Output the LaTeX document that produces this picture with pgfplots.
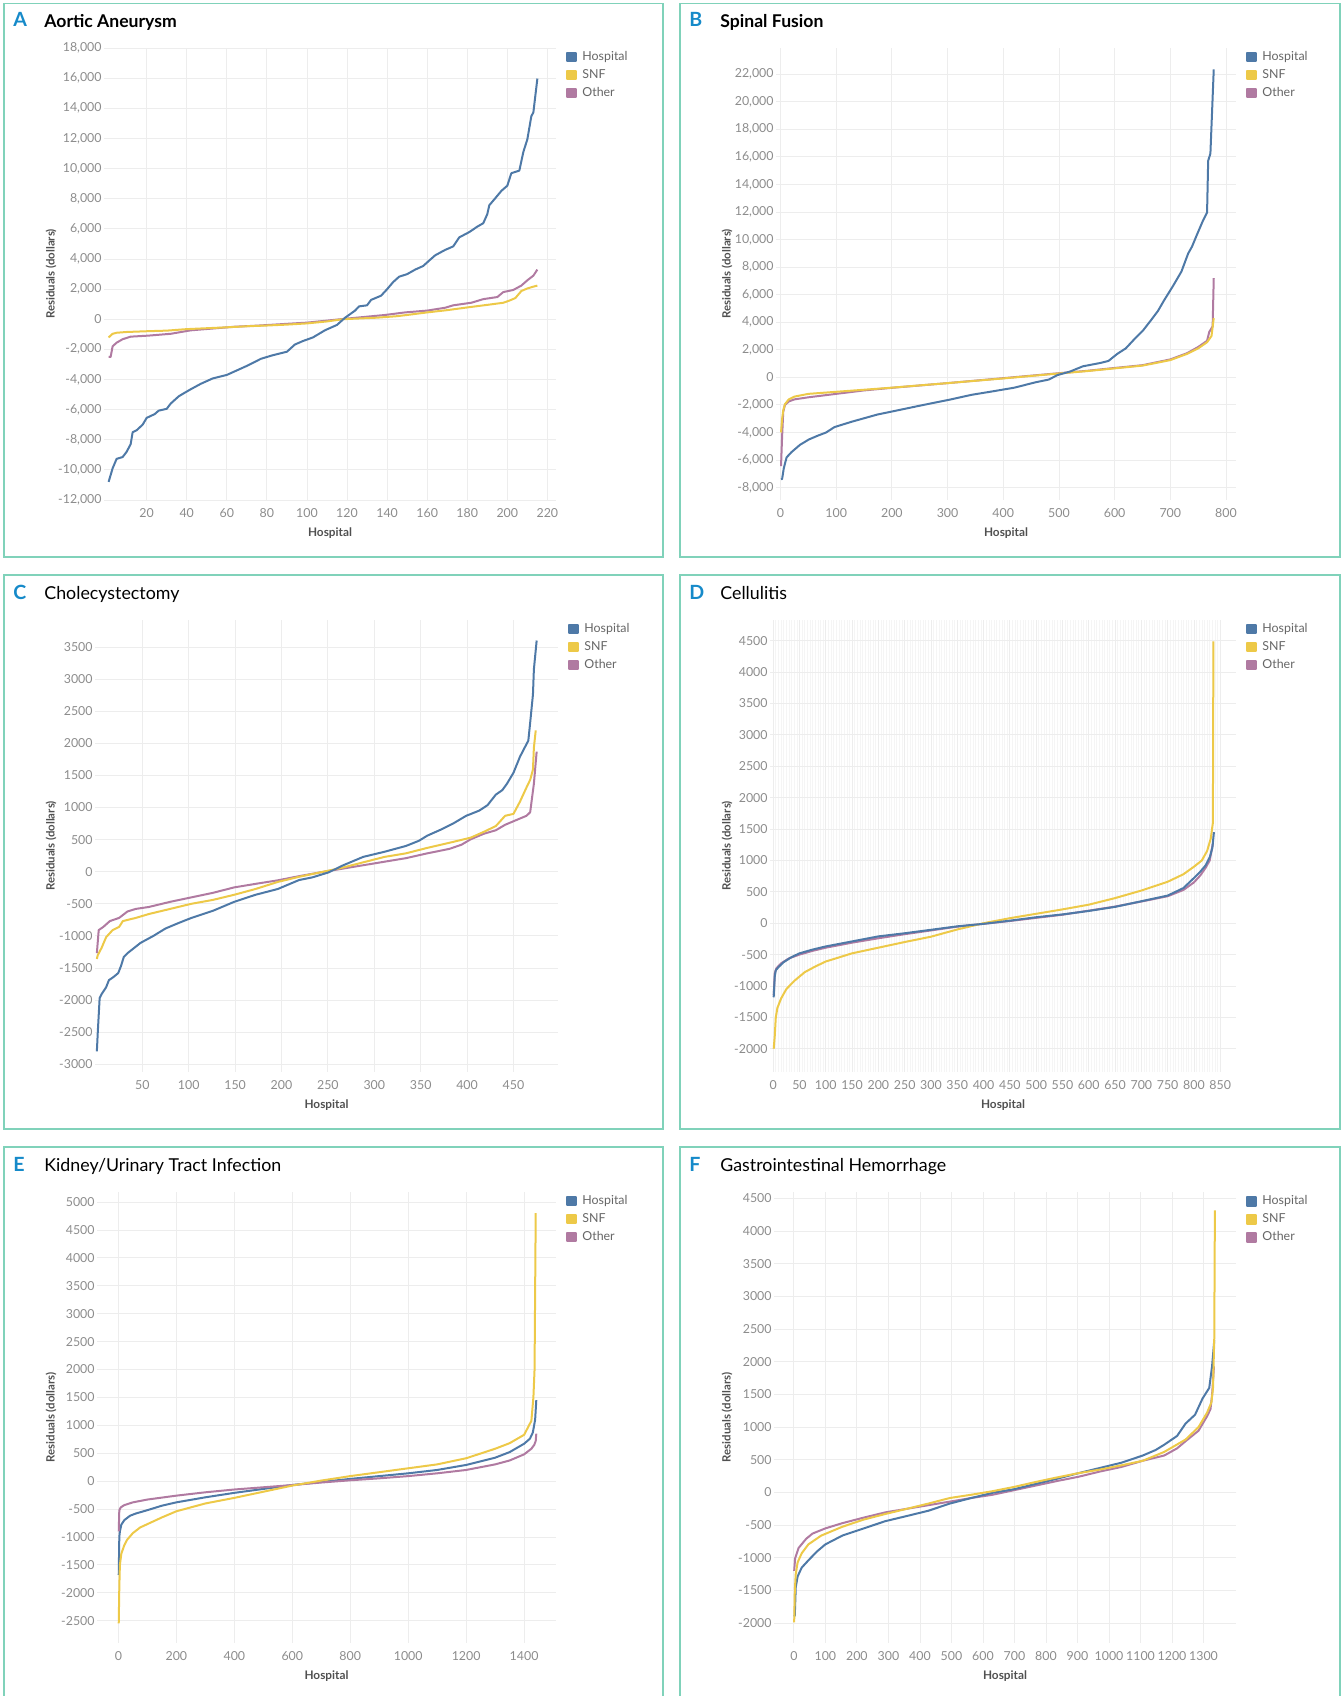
\documentclass[border=0pt]{standalone}
\usepackage{pgfplots}
\pgfplotsset{compat=1.18}
\usepackage{fontspec}
\setmainfont{Lato}
\definecolor{hosp}{RGB}{78,121,167}
\definecolor{snf}{RGB}{237,201,72}
\definecolor{oth}{RGB}{176,122,161}
\definecolor{framec}{RGB}{128,210,186}
\definecolor{letterc}{RGB}{22,138,201}
\definecolor{ticktext}{RGB}{140,140,140}
\definecolor{labtext}{RGB}{80,80,80}

\pgfplotsset{
  resid/.style={
    scale only axis,
    axis line style={draw=none},
    tick style={draw=none},
    xmajorgrids, ymajorgrids,
    major grid style={draw=black!7, line width=0.4pt},
    scaled x ticks=false, scaled y ticks=false,
    /pgf/number format/assume math mode=true,
    /pgf/number format/fixed,
    /pgf/number format/1000 sep={},
    tick label style={font=\fontsize{6.2}{7}\selectfont, text=ticktext},
    yticklabel style={anchor=east, inner sep=1pt},
    xticklabel style={anchor=center, yshift=-6.3pt},
    xlabel={Hospital},
    ylabel={Residuals (dollars)},
    every axis x label/.style={at={(axis description cs:0.5,0)}, anchor=center, yshift=-16.5pt, font=\bfseries\fontsize{5.9}{6}\selectfont, text=labtext},
    every axis y label/.style={at={(axis description cs:0,0.5)}, anchor=center, rotate=90, font=\bfseries\fontsize{5.7}{6}\selectfont, text=labtext},
    legend style={at={(1,1)}, anchor=north west, xshift=5pt, yshift=-1pt, draw=none, fill=none, inner sep=0pt,
      font=\fontsize{6.2}{7}\selectfont, text=black!60, row sep=2.1pt,
      nodes={inner sep=0.6pt, text height=4.4pt, text depth=1.3pt},
      /tikz/every odd column/.append style={column sep=2.2pt}},
    legend cell align=left,
    legend image code/.code={\fill[##1] (0pt,-2.1pt) rectangle (4.2pt,2.1pt);},
    extra y ticks={0}, extra y tick labels={},
    extra y tick style={tick style={draw=none}, grid style={draw=black!30, densely dotted, line width=0.5pt}},
  },
  ylab/.style={every axis y label/.append style={at={([xshift=#1]axis description cs:0,0.5)}}},
  commasep/.style={yticklabel style={/pgf/number format/1000 sep={,}}},
  hl/.style={color=hosp, line width=1pt, line join=round},
  sl/.style={color=snf, line width=1pt, line join=round},
  ol/.style={color=oth, line width=1pt, line join=round},
}
\newcommand{\legs}{%
  \addlegendimage{hl}\addlegendentry{Hospital}
  \addlegendimage{sl}\addlegendentry{SNF}
  \addlegendimage{ol}\addlegendentry{Other}}

\begin{document}
\begin{tikzpicture}
\path[use as bounding box] (0,0) rectangle (671.5pt,848pt);
% panel frames
\draw[framec, line width=0.8pt] (2pt,846.25pt) rectangle (331.5pt,569.5pt);
\draw[framec, line width=0.8pt] (340pt,846.25pt) rectangle (670pt,569.5pt);
\draw[framec, line width=0.8pt] (2pt,560.5pt) rectangle (331.5pt,283.5pt);
\draw[framec, line width=0.8pt] (340pt,560.5pt) rectangle (670pt,283.5pt);
\draw[framec, line width=0.8pt] (2pt,274.5pt) rectangle (331.5pt,-3pt);
\draw[framec, line width=0.8pt] (340pt,274.5pt) rectangle (670pt,-3pt);
% titles
\node[anchor=base west, inner sep=0pt, text=letterc, font=\bfseries\fontsize{9.8}{10}\selectfont] at (6.5pt,834.6pt) {A};
\node[anchor=base west, inner sep=0pt, font=\bfseries\fontsize{8.8}{10}\selectfont] at (22pt,834.2pt) {Aortic Aneurysm};
\node[anchor=base west, inner sep=0pt, text=letterc, font=\bfseries\fontsize{9.8}{10}\selectfont] at (344.5pt,834.6pt) {B};
\node[anchor=base west, inner sep=0pt, font=\bfseries\fontsize{8.8}{10}\selectfont] at (360pt,834.2pt) {Spinal Fusion};
\node[anchor=base west, inner sep=0pt, text=letterc, font=\bfseries\fontsize{9.8}{10}\selectfont] at (6.5pt,548pt) {C};
\node[anchor=base west, inner sep=0pt, font=\fontsize{8.9}{10}\selectfont] at (22pt,548pt) {Cholecystectomy};
\node[anchor=base west, inner sep=0pt, text=letterc, font=\bfseries\fontsize{9.8}{10}\selectfont] at (344.5pt,548pt) {D};
\node[anchor=base west, inner sep=0pt, font=\fontsize{8.9}{10}\selectfont] at (360pt,548pt) {Cellulitis};
\node[anchor=base west, inner sep=0pt, text=letterc, font=\bfseries\fontsize{9.8}{10}\selectfont] at (6.5pt,262pt) {E};
\node[anchor=base west, inner sep=0pt, font=\fontsize{8.9}{10}\selectfont] at (22pt,262pt) {Kidney/Urinary Tract Infection};
\node[anchor=base west, inner sep=0pt, text=letterc, font=\bfseries\fontsize{9.8}{10}\selectfont] at (344.5pt,262pt) {F};
\node[anchor=base west, inner sep=0pt, font=\fontsize{8.9}{10}\selectfont] at (360pt,262pt) {Gastrointestinal Hemorrhage};

% ---------------- A
\begin{axis}[resid, commasep, ylab=-26.5pt, at={(52pt,598pt)}, anchor=south west,
  width=226pt, height=226pt, xmin=-1.3, xmax=224.3, ymin=-12000, ymax=18000,
  xtick={20,40,...,220}, ytick={-12000,-10000,...,18000}]
\legs
\addplot[ol, forget plot] coordinates {(1,-2510)(2,-2510)(3,-1800)(5,-1560)(8,-1330)(12,-1160)(21,-1090)(32,-970)(42,-740)(53,-620)(64,-500)(75,-430)(96,-260)(100,-230)(117,0)(128,140)(139,280)(149,450)(160,570)(169,760)(173,920)(182,1090)(188,1330)(195,1470)(198,1800)(203,1940)(207,2230)(210,2580)(213,2890)(215,3290)};
\addplot[sl, forget plot] coordinates {(1,-1210)(3,-970)(5,-900)(10,-850)(20,-800)(30,-760)(40,-660)(50,-600)(60,-540)(70,-470)(80,-420)(90,-360)(100,-280)(110,-150)(118,0)(125,40)(135,100)(145,200)(150,280)(160,450)(170,600)(180,780)(190,950)(198,1090)(201,1230)(204,1400)(207,1870)(210,2040)(213,2160)(215,2230)};
\addplot[hl, forget plot] coordinates {(1,-10800)(3,-9900)(5,-9270)(8,-9150)(10,-8800)(12,-8300)(13,-7500)(15,-7370)(18,-7000)(20,-6550)(24,-6300)(26,-6070)(30,-5950)(32,-5600)(36,-5120)(39,-4880)(42,-4650)(47,-4290)(53,-3930)(60,-3700)(64,-3460)(70,-3100)(77,-2630)(83,-2390)(90,-2160)(94,-1680)(98,-1450)(103,-1210)(109,-735)(115,-380)(119,95)(124,570)(126,850)(130,920)(132,1280)(137,1560)(140,1990)(143,2460)(146,2820)(150,2990)(154,3290)(158,3530)(161,3890)(164,4240)(169,4600)(173,4830)(176,5430)(181,5780)(185,6140)(188,6370)(190,6970)(191,7560)(194,8030)(197,8510)(200,8860)(202,9690)(206,9860)(208,11100)(210,11940)(212,13480)(213,13720)(215,15970)};
\end{axis}

% ---------------- B
\begin{axis}[resid, commasep, ylab=-24.5pt, at={(388pt,598pt)}, anchor=south west,
  width=230pt, height=226pt, xmin=-8, xmax=818, ymin=-8900, ymax=23900,
  xtick={0,100,...,800}, ytick={-8000,-6000,...,22000}]
\legs
\addplot[ol, forget plot] coordinates {(1,-6450)(3,-4250)(5,-2500)(8,-2000)(15,-1750)(25,-1600)(50,-1450)(100,-1200)(150,-950)(200,-760)(300,-420)(400,-60)(450,120)(500,300)(550,470)(600,680)(650,880)(700,1300)(730,1750)(750,2200)(766,2650)(770,3300)(776,3700)(778,7200)};
\addplot[sl, forget plot] coordinates {(1,-4000)(3,-3000)(5,-2400)(8,-1950)(15,-1600)(25,-1400)(50,-1200)(100,-1050)(150,-900)(200,-750)(300,-420)(400,-80)(450,100)(500,280)(550,450)(600,650)(650,850)(700,1250)(730,1700)(750,2100)(766,2550)(774,3000)(778,4300)};
\addplot[hl, forget plot] coordinates {(1,-7400)(3,-7370)(6,-6590)(11,-5810)(20,-5420)(35,-4900)(51,-4510)(66,-4250)(82,-4000)(97,-3610)(128,-3220)(174,-2700)(205,-2440)(251,-2050)(305,-1610)(343,-1270)(382,-1010)(420,-750)(458,-360)(482,-160)(497,160)(520,420)(543,800)(574,1040)(589,1190)(605,1710)(620,2100)(635,2750)(651,3400)(666,4180)(678,4830)(689,5600)(705,6640)(720,7680)(732,8980)(739,9490)(747,10270)(758,11310)(766,11960)(768,15720)(772,16240)(778,22340)};
\end{axis}

% ---------------- C
\begin{axis}[resid, ylab=-22pt, at={(47.5pt,312pt)}, anchor=south west,
  width=231.5pt, height=226pt, xmin=-1, xmax=498, ymin=-3120, ymax=3920,
  xtick={50,100,...,450}, ytick={-3000,-2500,...,3500}]
\legs
\addplot[ol, forget plot] coordinates {(1,-1270)(3,-910)(8,-860)(15,-770)(25,-720)(34,-620)(43,-580)(57,-550)(80,-470)(103,-400)(126,-330)(149,-245)(172,-190)(196,-135)(219,-70)(242,-10)(265,45)(288,100)(311,155)(334,210)(357,285)(381,355)(394,420)(404,505)(418,590)(431,645)(441,730)(450,785)(464,870)(468,925)(472,1370)(475,1870)};
\addplot[sl, forget plot] coordinates {(1,-1360)(2,-1300)(6,-1190)(11,-1020)(18,-910)(25,-860)(29,-770)(43,-720)(57,-660)(80,-580)(103,-500)(126,-440)(149,-360)(172,-270)(196,-160)(219,-80)(242,-10)(265,60)(288,145)(311,230)(334,285)(357,370)(381,450)(404,530)(418,620)(431,710)(441,870)(450,900)(457,1090)(464,1310)(468,1430)(471,1590)(472,1930)(474,2200)};
\addplot[hl, forget plot] coordinates {(1,-2800)(2,-2500)(4,-1970)(6,-1910)(11,-1800)(14,-1690)(19,-1640)(24,-1580)(27,-1470)(30,-1330)(34,-1270)(41,-1190)(48,-1110)(62,-1000)(75,-885)(89,-800)(103,-720)(126,-610)(149,-470)(172,-360)(196,-270)(219,-130)(233,-90)(251,-10)(265,90)(288,230)(311,310)(334,400)(348,480)(357,560)(371,650)(385,750)(399,870)(413,950)(422,1035)(431,1200)(438,1270)(443,1370)(450,1540)(457,1790)(462,1930)(466,2040)(468,2320)(471,2760)(472,3150)(475,3600)};
\end{axis}

% ---------------- D
\begin{axis}[resid, ylab=-21.5pt, at={(385pt,312pt)}, anchor=south west,
  width=233pt, height=226pt, xmin=-6, xmax=880, ymin=-2370, ymax=4830,
  xtick={0,50,...,850}, ytick={-2000,-1500,...,4500},
  minor x tick num=9, xminorgrids, minor grid style={draw=black!4, line width=0.3pt}]
\legs
\addplot[ol, forget plot] coordinates {(1,-1150)(3,-800)(6,-720)(15,-640)(30,-560)(50,-500)(75,-440)(100,-390)(150,-310)(200,-240)(250,-175)(300,-115)(350,-55)(400,-10)(450,35)(500,85)(550,135)(600,200)(650,265)(700,345)(750,430)(780,530)(800,650)(812,760)(822,880)(830,1000)(836,1270)};
\addplot[sl, forget plot] coordinates {(1,-2000)(3,-1800)(5,-1500)(8,-1350)(15,-1200)(25,-1050)(40,-920)(60,-780)(80,-690)(100,-610)(150,-480)(200,-390)(250,-300)(300,-215)(350,-100)(400,0)(450,80)(500,150)(550,220)(600,295)(650,400)(700,520)(750,660)(780,780)(800,900)(815,1000)(825,1150)(832,1350)(836,1600)(837,4490)};
\addplot[hl, forget plot] coordinates {(1,-1180)(3,-850)(5,-750)(10,-700)(20,-620)(35,-540)(50,-480)(75,-420)(100,-370)(150,-290)(200,-210)(250,-160)(300,-105)(350,-50)(400,-10)(450,40)(500,95)(550,140)(600,195)(650,260)(700,350)(750,440)(780,560)(800,720)(812,820)(822,920)(830,1050)(835,1200)(838,1450)};
\end{axis}

% ---------------- E
\begin{axis}[resid, ylab=-23pt, at={(48.5pt,26.5pt)}, anchor=south west,
  width=229.5pt, height=225.5pt, xmin=-74, xmax=1510, ymin=-2900, ymax=5180,
  xtick={0,200,...,1400}, ytick={-2500,-2000,...,5000}]
\legs
\addplot[hl, forget plot] coordinates {(1,-1680)(3,-1000)(5,-900)(10,-780)(20,-700)(40,-620)(60,-580)(100,-520)(150,-440)(200,-380)(300,-290)(400,-210)(500,-140)(600,-70)(700,-15)(800,40)(900,90)(1000,140)(1100,200)(1200,290)(1300,420)(1350,520)(1400,670)(1420,760)(1430,870)(1438,1100)(1442,1450)};
\addplot[ol, forget plot] coordinates {(1,-900)(3,-520)(8,-470)(20,-430)(50,-380)(100,-330)(200,-260)(300,-200)(400,-150)(500,-110)(600,-70)(700,-25)(800,15)(900,50)(1000,90)(1100,140)(1200,200)(1300,300)(1350,370)(1400,480)(1425,580)(1435,650)(1440,720)(1442,850)};
\addplot[sl, forget plot] coordinates {(1,-2550)(3,-1900)(5,-1500)(10,-1300)(20,-1150)(30,-1050)(50,-930)(75,-830)(100,-770)(150,-650)(200,-540)(300,-400)(400,-300)(500,-190)(600,-80)(700,10)(800,90)(900,160)(1000,230)(1100,300)(1200,410)(1300,580)(1350,680)(1400,830)(1425,1080)(1432,1500)(1436,2000)(1440,4800)};
\end{axis}

% ---------------- F
\begin{axis}[resid, ylab=-23.5pt, at={(387pt,26.5pt)}, anchor=south west,
  width=231pt, height=225.5pt, xmin=-63, xmax=1403, ymin=-2305, ymax=4600,
  xtick={0,100,...,1300}, ytick={-2000,-1500,...,4500}]
\legs
\addplot[ol, forget plot] coordinates {(1,-1200)(4,-1010)(15,-850)(39,-710)(59,-630)(100,-550)(154,-470)(222,-385)(290,-305)(359,-250)(427,-195)(495,-140)(563,-85)(631,-35)(699,35)(767,105)(835,175)(903,240)(971,320)(1039,390)(1107,485)(1175,565)(1216,675)(1243,785)(1284,945)(1311,1165)(1322,1275)(1327,1490)(1333,1930)};
\addplot[hl, forget plot] coordinates {(1,-1900)(3,-1880)(6,-1450)(12,-1285)(25,-1150)(46,-1040)(73,-905)(100,-795)(154,-660)(222,-550)(290,-440)(359,-360)(427,-280)(495,-170)(563,-85)(631,-5)(699,50)(767,130)(835,210)(903,295)(971,375)(1039,455)(1107,565)(1148,650)(1175,730)(1216,865)(1243,1055)(1273,1190)(1297,1440)(1318,1600)(1327,1930)(1334,2330)};
\addplot[sl, forget plot] coordinates {(1,-1990)(3,-1500)(6,-1250)(12,-1070)(25,-930)(46,-795)(87,-660)(154,-525)(222,-415)(290,-330)(359,-250)(427,-170)(495,-85)(563,-35)(631,20)(699,85)(767,160)(835,230)(903,295)(971,350)(1039,415)(1107,485)(1175,620)(1243,810)(1284,1000)(1311,1220)(1325,1380)(1330,1600)(1334,2360)(1336,4320)};
\end{axis}
\end{tikzpicture}
\end{document}
